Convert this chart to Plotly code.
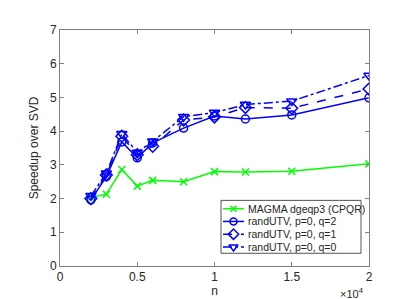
import plotly.graph_objects as go

n = [2000, 3000, 4000, 5000, 6000, 8000, 10000, 12000, 15000, 20000]
magma = [2.03, 2.13, 2.86, 2.37, 2.54, 2.50, 2.80, 2.79, 2.81, 3.03]
q2 = [1.96, 2.65, 3.68, 3.21, 3.65, 4.09, 4.45, 4.36, 4.48, 4.99]
q1 = [2.00, 2.70, 3.85, 3.30, 3.55, 4.33, 4.42, 4.70, 4.68, 5.25]
q0 = [2.08, 2.75, 3.92, 3.37, 3.70, 4.43, 4.55, 4.79, 4.89, 5.65]

names = ["MAGMA dgeqp3 (CPQR)", "randUTV, p=0, q=2", "randUTV, p=0, q=1", "randUTV, p=0, q=0"]
xtick_vals = [0, 5000, 10000, 15000, 20000]
xtick_text = ["0", "0.5", "1", "1.5", "2"]
ytick_vals = [0, 1, 2, 3, 4, 5, 6, 7]

GREEN = "#00ff00"
BLUE = "#0000ff"
TXT = "#262626"
styles = [
    dict(color=GREEN, dash="solid", symbol="x-thin-open", size=7),
    dict(color=BLUE, dash="solid", symbol="circle-open", size=8),
    dict(color=BLUE, dash="dash", symbol="diamond-open", size=9),
    dict(color=BLUE, dash="dashdot", symbol="triangle-down-open", size=9),
]
series = [magma, q2, q1, q0]

fig = go.Figure()
for name, ys, st in zip(names, series, styles):
    fig.add_trace(go.Scatter(
        x=n, y=ys, name=name, mode="lines+markers", showlegend=False,
        line=dict(color=st["color"], width=1.5, dash=st["dash"]),
        marker=dict(symbol=st["symbol"], size=st["size"], color=st["color"],
                    line=dict(color=st["color"], width=1.5))))

axis_common = dict(showgrid=False, zeroline=False, showline=True, linecolor="#808080",
                   linewidth=1, mirror="ticks", ticks="inside", ticklen=4,
                   tickcolor="#808080", tickfont=dict(size=12, color=TXT))
fig.update_xaxes(range=[0, 20000], tickvals=xtick_vals, ticktext=xtick_text,
                 title=dict(text="n", font=dict(size=12, color=TXT), standoff=2),
                 **axis_common)
fig.update_yaxes(range=[0, 7], tickvals=ytick_vals,
                 title=dict(text="Speedup over SVD", font=dict(size=12, color=TXT), standoff=8),
                 **axis_common)

# overlay axes in pixel coordinates for the legend box
fig.update_layout(
    xaxis2=dict(overlaying="x", range=[52, 361], visible=False, fixedrange=True),
    yaxis2=dict(overlaying="y", range=[263, 22], visible=False, fixedrange=True),
)

# legend box
fig.add_shape(type="rect", xref="x2", yref="y2", x0=213, x1=353, y0=196, y1=250,
              line=dict(color=TXT, width=0.8), fillcolor="white", layer="below")
rows = [204.5, 217.5, 230.5, 243.5]
for name, st, ry in zip(names, styles, rows):
    fig.add_shape(type="line", xref="x2", yref="y2", x0=215, x1=236, y0=ry, y1=ry,
                  line=dict(color=st["color"], width=1.5, dash=st["dash"]), layer="below")
    fig.add_trace(go.Scatter(
        x=[225.5], y=[ry], xaxis="x2", yaxis="y2", mode="markers", showlegend=False,
        hoverinfo="skip",
        marker=dict(symbol=st["symbol"], size=st["size"] - 1, color=st["color"],
                    line=dict(color=st["color"], width=1.5))))
    fig.add_annotation(text=name, xref="x2", yref="y2", x=238, y=ry, xanchor="left",
                       yanchor="middle", showarrow=False, font=dict(size=10.5, color=TXT))

fig.add_annotation(text="×10<sup>4</sup>", xref="paper", yref="paper", x=0.99, y=-0.116,
                   xanchor="right", yanchor="middle", showarrow=False,
                   font=dict(size=11, color=TXT))

fig.update_layout(
    width=399, height=299,
    margin=dict(l=52, r=38, t=22, b=36),
    paper_bgcolor="white", plot_bgcolor="white",
    font=dict(family="Liberation Sans, Arial, sans-serif", color=TXT),
    showlegend=False,
)

fig.write_html("out.html")
